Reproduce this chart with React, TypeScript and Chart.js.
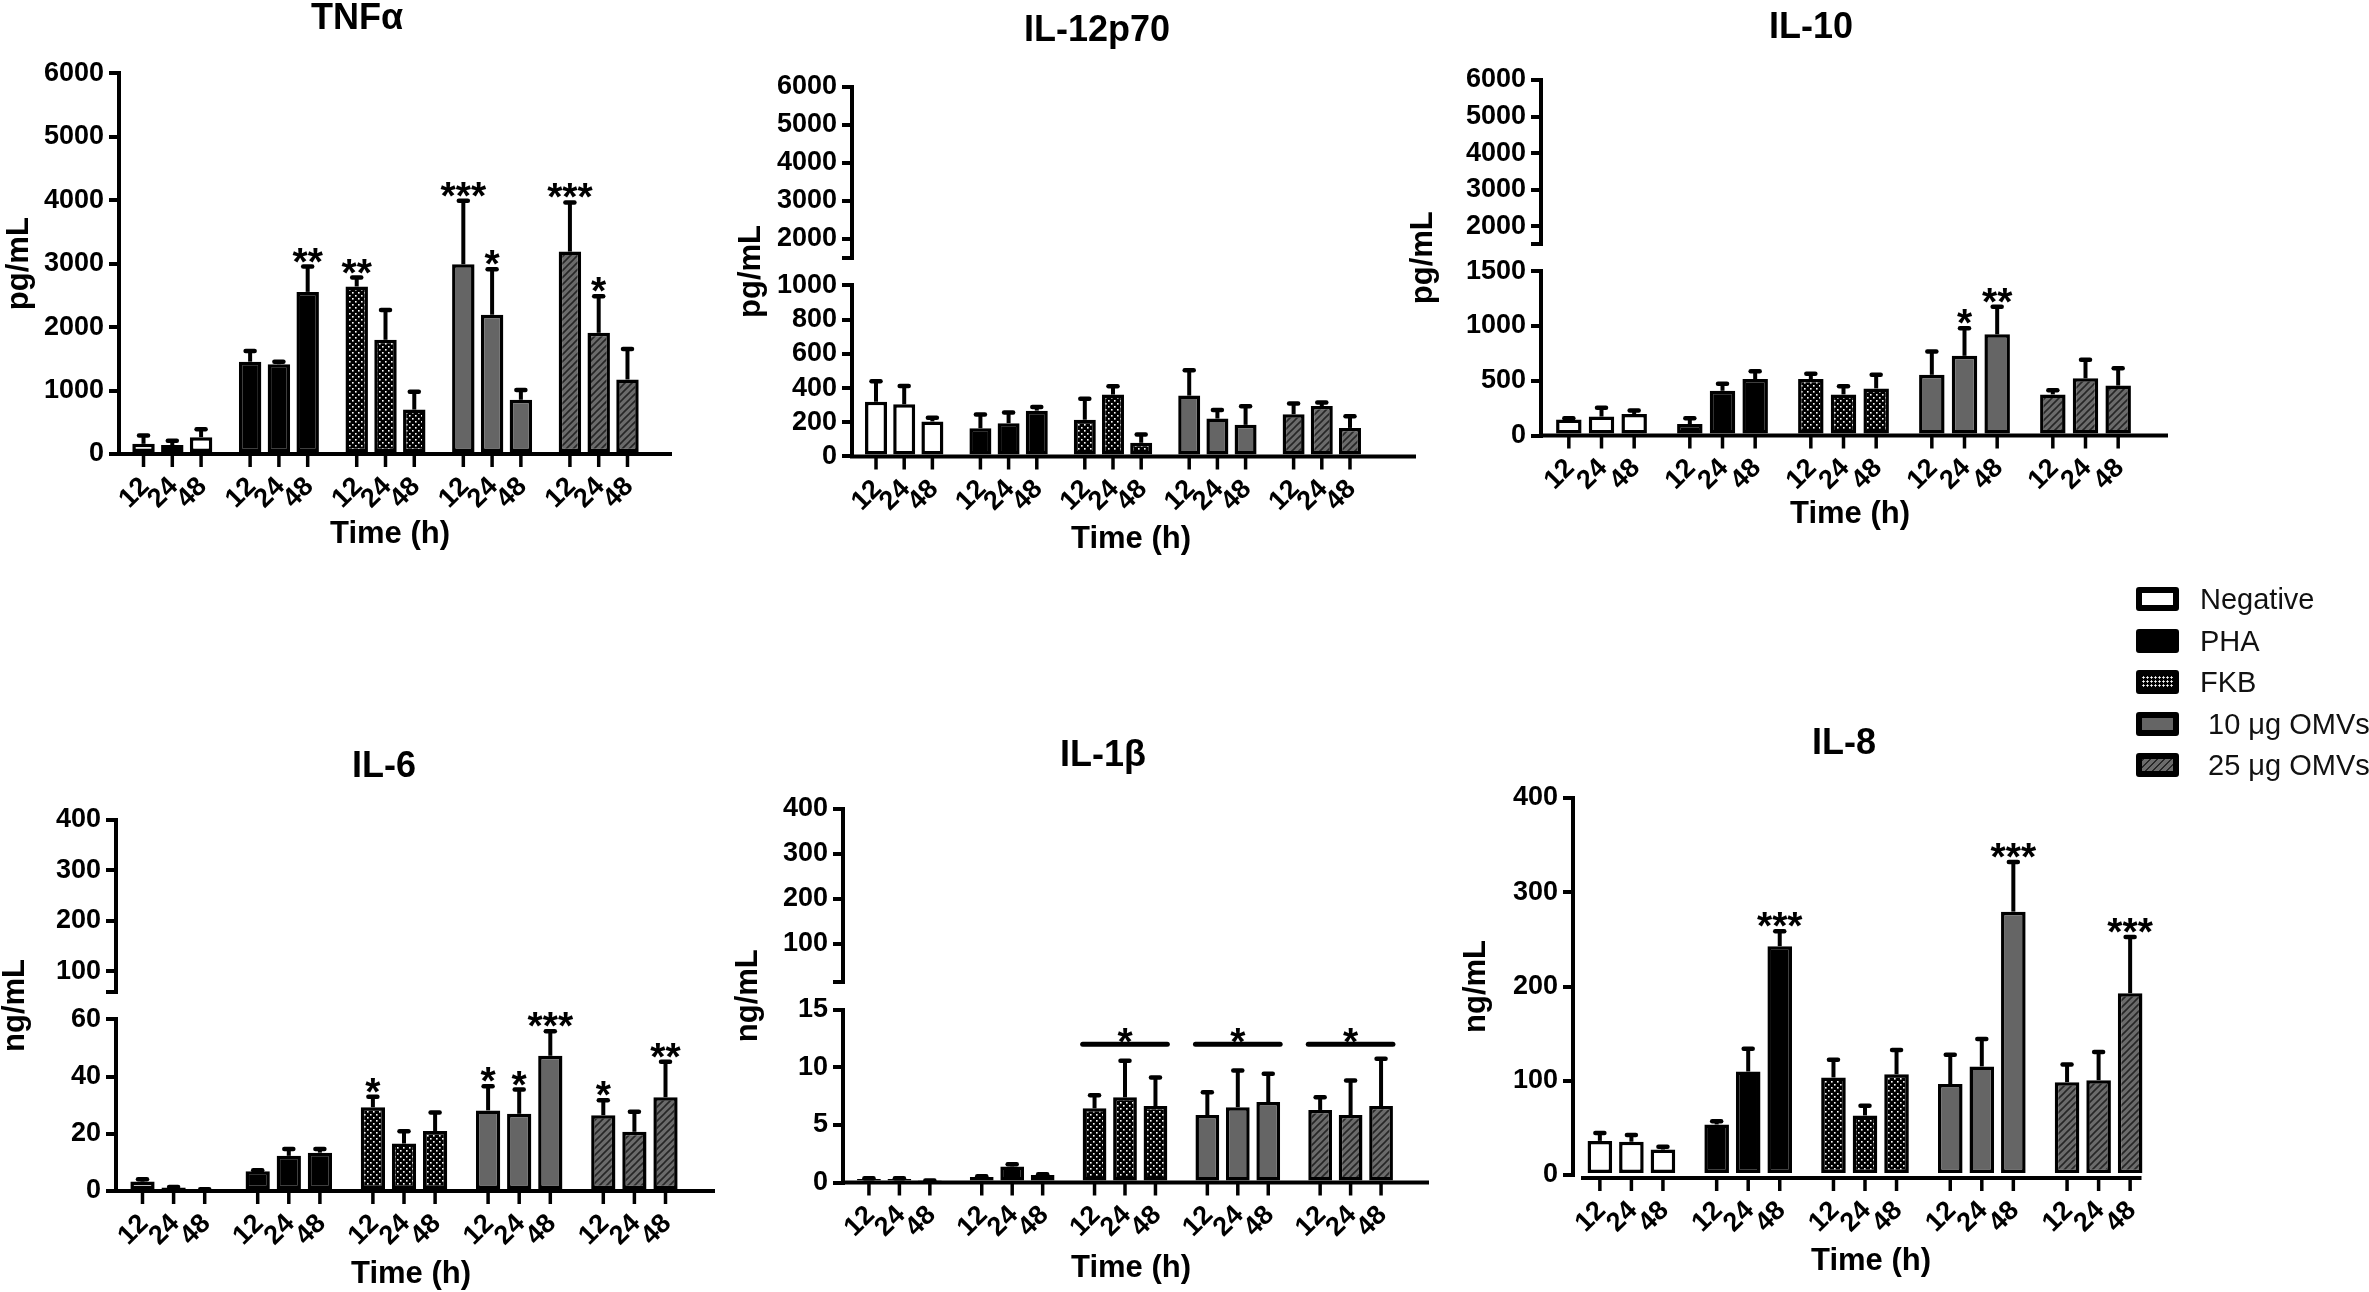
import { useEffect, useRef } from "react";
import { Chart, registerables } from "chart.js";

Chart.register(...registerables);

const FONT = '"Liberation Sans", Arial, Helvetica, sans-serif';
const PAGE_W = 2369;
const PAGE_H = 1292;
const YW = 100; // width of the y-axis box

// --- categories ---
const TREATMENTS = ["Negative", "PHA", "FKB", "10 μg OMVs", "25 μg OMVs"];
const TIMES = ["12", "24", "48"];

// --- values: rows = treatment, cols = 12 / 24 / 48 h ---
const TNF_MEAN = [[160, 140, 265], [1455, 1415, 2555], [2640, 1800, 700], [2990, 2195, 855], [3190, 1910, 1175]];
const TNF_SD = [[130, 70, 125], [170, 40, 400], [140, 470, 280], [1000, 715, 155], [775, 575, 480]];
const TNF_STARS = [["", "", ""], ["", "", "**"], ["**", "", ""], ["***", "*", ""], ["***", "*", ""]];
const TNF_TICKS = [0, 1000, 2000, 3000, 4000, 5000, 6000];

const IL12_MEAN = [[320, 305, 205], [165, 195, 268], [215, 362, 80], [356, 222, 185], [247, 295, 167]];
const IL12_SD = [[120, 107, 21], [80, 62, 21], [122, 48, 48], [148, 50, 109], [63, 21, 69]];
const IL12_LOW_TICKS = [0, 200, 400, 600, 800, 1000];
const IL12_HIGH_TICKS = [1500, 2000, 3000, 4000, 5000, 6000];

const IL10_MEAN = [[147, 173, 196], [104, 408, 515], [515, 375, 430], [554, 727, 923], [375, 522, 456]];
const IL10_SD = [[10, 81, 32], [53, 65, 72], [49, 75, 124], [212, 251, 251], [39, 169, 157]];
const IL10_STARS = [["", "", ""], ["", "", ""], ["", "", ""], ["", "*", "**"], ["", "", ""]];
const IL10_LOW_TICKS = [0, 500, 1000, 1500];
const IL10_HIGH_TICKS = [1500, 2000, 3000, 4000, 5000, 6000];

const IL6_MEAN = [[3.3, 1.2, 0.5], [6.9, 12.3, 13.4], [29.3, 16.6, 21.0], [28.2, 27.0, 47.3], [26.5, 20.7, 32.8]];
const IL6_SD = [[0.8, 0.2, 0.1], [0.4, 2.4, 1.3], [3.7, 4.3, 6.5], [8.4, 8.5, 8.6], [5.2, 7.0, 12.4]];
const IL6_STARS = [["", "", ""], ["", "", ""], ["*", "", ""], ["*", "*", "***"], ["*", "", "**"]];
const IL6_LOW_TICKS = [0, 20, 40, 60];
const IL6_HIGH_TICKS = [60, 100, 200, 300, 400];

const IL1B_MEAN = [[0.3, 0.3, 0.14], [0.48, 1.4, 0.65], [6.44, 7.4, 6.64], [5.86, 6.54, 6.99], [6.3, 5.86, 6.64]];
const IL1B_SD = [[0.08, 0.07, 0.03], [0.07, 0.18, 0.07], [1.13, 3.18, 2.47], [1.98, 3.19, 2.46], [1.1, 3.01, 4.11]];
const IL1B_GROUP_STARS = ["", "", "*", "*", "*"];
const IL1B_GROUP_LINE = 12;
const IL1B_LOW_TICKS = [0, 5, 10, 15];
const IL1B_HIGH_TICKS = [15, 100, 200, 300, 400];

const IL8_MEAN = [[36.2, 35.3, 27.0], [53.6, 109.8, 242.8], [103.5, 63.2, 106.9], [96.5, 115.2, 279.4], [98.5, 100.6, 192.9]];
const IL8_SD = [[8.3, 7.1, 2.9], [3.4, 24.1, 15.8], [18.7, 10.4, 25.7], [31.2, 29.1, 52.8], [18.8, 30.0, 59.5]];
const IL8_STARS = [["", "", ""], ["", "", "***"], ["", "", ""], ["", "", "***"], ["", "", "***"]];
const IL8_TICKS = [0, 100, 200, 300, 400];

const NO_STARS = [["", "", ""], ["", "", ""], ["", "", ""], ["", "", ""], ["", "", ""]];

type Panel = {
  title: string;
  unit: string;
  mean: number[][];
  sd: number[][];
  stars: string[][];
  lowTicks: number[];
  highTicks?: number[];
  groupStars?: string[];
  groupLine?: number;
  // layout, page pixels
  axisX: number;
  top: number;
  zero: number;
  catW: number;
  axisEnd: number;
  titleX: number;
  titleY: number;
  unitX: number;
  timeX: number;
  timeY: number;
  xAxisDx?: number;
  xAxisDy?: number;
};

const PANELS: Panel[] = [
  {
    title: "TNFα", unit: "pg/mL", mean: TNF_MEAN, sd: TNF_SD, stars: TNF_STARS, lowTicks: TNF_TICKS,
    axisX: 119, top: 73.3, zero: 454, catW: 533, axisEnd: 672,
    titleX: 357, titleY: 19, unitX: 19.5, timeX: 390, timeY: 534,
  },
  {
    title: "IL-12p70", unit: "pg/mL", mean: IL12_MEAN, sd: IL12_SD, stars: NO_STARS,
    lowTicks: IL12_LOW_TICKS, highTicks: IL12_HIGH_TICKS,
    axisX: 852, top: 86.5, zero: 456.5, catW: 522, axisEnd: 1416,
    titleX: 1097, titleY: 31, unitX: 751, timeX: 1131, timeY: 539,
  },
  {
    title: "IL-10", unit: "pg/mL", mean: IL10_MEAN, sd: IL10_SD, stars: IL10_STARS,
    lowTicks: IL10_LOW_TICKS, highTicks: IL10_HIGH_TICKS,
    axisX: 1541, top: 80, zero: 435.5, catW: 605, axisEnd: 2168,
    titleX: 1811, titleY: 28, unitX: 1423, timeX: 1850, timeY: 514,
  },
  {
    title: "IL-6", unit: "ng/mL", mean: IL6_MEAN, sd: IL6_SD, stars: IL6_STARS,
    lowTicks: IL6_LOW_TICKS, highTicks: IL6_HIGH_TICKS,
    axisX: 116, top: 820, zero: 1191, catW: 576, axisEnd: 715,
    titleX: 384, titleY: 767, unitX: 15.5, timeX: 411, timeY: 1274,
  },
  {
    title: "IL-1β", unit: "ng/mL", mean: IL1B_MEAN, sd: IL1B_SD, stars: NO_STARS,
    lowTicks: IL1B_LOW_TICKS, highTicks: IL1B_HIGH_TICKS,
    groupStars: IL1B_GROUP_STARS, groupLine: IL1B_GROUP_LINE,
    axisX: 843, top: 809, zero: 1182.5, catW: 564, axisEnd: 1429,
    titleX: 1103, titleY: 756, unitX: 748, timeX: 1131, timeY: 1268,
  },
  {
    title: "IL-8", unit: "ng/mL", mean: IL8_MEAN, sd: IL8_SD, stars: IL8_STARS, lowTicks: IL8_TICKS,
    axisX: 1573, top: 798, zero: 1175, catW: 584, axisEnd: 2141.5,
    titleX: 1844, titleY: 744, unitX: 1476, timeX: 1871, timeY: 1261,
    xAxisDx: 10, xAxisDy: 3,
  },
];

/* ------------ fills ------------ */
function makeFills(ctx: CanvasRenderingContext2D) {
  const dots = document.createElement("canvas");
  dots.width = 6;
  dots.height = 6;
  const d = dots.getContext("2d")!;
  d.fillStyle = "#000";
  d.fillRect(0, 0, 6, 6);
  d.fillStyle = "#fff";
  d.fillRect(1, 1, 1.6, 1.6);
  d.fillRect(4, 4, 1.6, 1.6);

  const hatch = document.createElement("canvas");
  hatch.width = 7;
  hatch.height = 7;
  const h = hatch.getContext("2d")!;
  h.fillStyle = "#6b6b6b";
  h.fillRect(0, 0, 7, 7);
  h.strokeStyle = "#262626";
  h.lineWidth = 1.6;
  h.beginPath();
  h.moveTo(-1, 8);
  h.lineTo(8, -1);
  h.moveTo(-1, 1);
  h.lineTo(1, -1);
  h.moveTo(6, 8);
  h.lineTo(8, 6);
  h.stroke();

  return ["#ffffff", "#000000", ctx.createPattern(dots, "repeat")!, "#656565", ctx.createPattern(hatch, "repeat")!];
}

/* ------------ axes ------------ */
function yAxis(ticks: number[], hideFirst: boolean) {
  return {
    type: "linear",
    position: "left",
    min: ticks[0],
    max: ticks[ticks.length - 1],
    afterBuildTicks: (s: any) => {
      s.ticks = ticks.map((v) => ({ value: v }));
    },
    afterFit: (s: any) => {
      s.width = YW;
    },
    border: { display: true, color: "#000", width: 4 },
    grid: {
      drawOnChartArea: false,
      drawTicks: true,
      tickLength: 10,
      tickWidth: 4,
      tickColor: "#000",
      color: "#000",
      lineWidth: 4,
    },
    ticks: {
      autoSkip: false,
      color: "#000",
      padding: 5,
      font: { family: FONT, size: 27, weight: "bold" },
      callback: (v: any) => (hideFirst && v === ticks[0] ? "" : String(v)),
    },
  };
}

function buildScales(p: Panel) {
  const x = { type: "category", display: false };
  if (!p.highTicks) return { x, y: yAxis(p.lowTicks, false) };
  return {
    x,
    y: { ...yAxis(p.lowTicks, false), stack: "ax", stackWeight: 172, weight: 1 },
    yGap: {
      type: "linear",
      position: "left",
      stack: "ax",
      stackWeight: 28,
      weight: 2,
      border: { display: false },
      grid: { display: false },
      ticks: { display: false },
      afterFit: (s: any) => {
        s.width = YW;
      },
    },
    yUpper: { ...yAxis(p.highTicks, true), stack: "ax", stackWeight: 172, weight: 3 },
  };
}

/* ------------ error bars, ticks, stars, labels ------------ */
function decorPlugin(p: Panel) {
  return {
    id: "decor",
    afterDatasetsDraw(chart: any) {
      const ctx: CanvasRenderingContext2D = chart.ctx;
      const ys = chart.scales.y;
      const dy = p.xAxisDy ?? 0;
      const zero = ys.getPixelForValue(0) + dy;
      ctx.save();
      ctx.strokeStyle = "#000";
      ctx.fillStyle = "#000";

      // x axis line
      ctx.lineWidth = 4;
      ctx.lineCap = "butt";
      ctx.beginPath();
      ctx.moveTo(chart.chartArea.left - 2 + (p.xAxisDx ?? 0), zero);
      ctx.lineTo(p.axisEnd, zero);
      ctx.stroke();

      chart.data.datasets.forEach((_: any, di: number) => {
        const meta = chart.getDatasetMeta(di);
        meta.data.forEach((el: any, gi: number) => {
          const { x, y } = el.getProps(["x", "y"], true);
          // tick mark under bar
          ctx.lineWidth = 3.5;
          ctx.lineCap = "butt";
          ctx.beginPath();
          ctx.moveTo(x, zero);
          ctx.lineTo(x, zero + 13);
          ctx.stroke();
          // rotated time label
          ctx.save();
          ctx.translate(x - 9, zero + 39);
          ctx.rotate(-Math.PI / 4);
          ctx.font = `bold 27px ${FONT}`;
          ctx.textAlign = "center";
          ctx.textBaseline = "middle";
          ctx.fillText(TIMES[di], 0, 0);
          ctx.restore();
          // error bar (upper)
          const eTop = ys.getPixelForValue(p.mean[gi][di] + p.sd[gi][di]);
          ctx.lineWidth = 4;
          ctx.beginPath();
          ctx.moveTo(x, y);
          ctx.lineTo(x, eTop);
          ctx.stroke();
          ctx.lineWidth = 4.5;
          ctx.lineCap = "round";
          ctx.beginPath();
          ctx.moveTo(x - 4.5, eTop);
          ctx.lineTo(x + 4.5, eTop);
          ctx.stroke();
          // significance
          const s = p.stars[gi][di];
          if (s) {
            ctx.font = `bold 39px ${FONT}`;
            ctx.textAlign = "center";
            ctx.textBaseline = "alphabetic";
            ctx.fillText(s, x, eTop + 8);
          }
        });
      });

      // group significance lines
      if (p.groupStars && p.groupLine !== undefined) {
        const ly = ys.getPixelForValue(p.groupLine);
        const first = chart.getDatasetMeta(0).data;
        const mid = chart.getDatasetMeta(1).data;
        const last = chart.getDatasetMeta(2).data;
        p.groupStars.forEach((s, gi) => {
          if (!s) return;
          const a = first[gi].getProps(["x", "width"], true);
          const b = last[gi].getProps(["x", "width"], true);
          ctx.lineWidth = 5;
          ctx.lineCap = "round";
          ctx.beginPath();
          ctx.moveTo(a.x - a.width / 2, ly);
          ctx.lineTo(b.x + b.width / 2, ly);
          ctx.stroke();
          ctx.font = `bold 39px ${FONT}`;
          ctx.textAlign = "center";
          ctx.textBaseline = "alphabetic";
          ctx.fillText(s, mid[gi].x, ly + 11);
        });
      }

      // titles
      ctx.textAlign = "center";
      ctx.textBaseline = "middle";
      ctx.font = `bold 36px ${FONT}`;
      ctx.fillText(p.title, p.titleX, p.titleY);
      ctx.font = `bold 31px ${FONT}`;
      ctx.fillText("Time (h)", p.timeX, p.timeY);
      ctx.save();
      ctx.translate(p.unitX, (p.top + p.zero) / 2);
      ctx.rotate(-Math.PI / 2);
      ctx.fillText(p.unit, 0, 0);
      ctx.restore();

      ctx.restore();
    },
  };
}

function CytokinePanel({ p }: { p: Panel }) {
  const ref = useRef<HTMLCanvasElement | null>(null);

  useEffect(() => {
    const canvas = ref.current;
    if (!canvas) return;
    const fills = makeFills(canvas.getContext("2d")!);
    const chart = new Chart(canvas, {
      type: "bar",
      data: {
        labels: TREATMENTS,
        datasets: TIMES.map((t, ti) => ({
          label: `${t} h`,
          data: p.mean.map((row) => row[ti]),
          backgroundColor: fills,
          borderColor: "#000",
          borderWidth: 3.5,
          borderSkipped: false,
          categoryPercentage: 0.81,
          barPercentage: 0.78,
          yAxisID: "y",
        })),
      },
      options: {
        animation: false,
        responsive: false,
        devicePixelRatio: 1,
        events: [],
        layout: {
          padding: {
            left: p.axisX - YW,
            right: PAGE_W - p.axisX - p.catW,
            top: p.top,
            bottom: PAGE_H - p.zero,
          },
        },
        plugins: { legend: { display: false }, tooltip: { enabled: false }, title: { display: false } },
        scales: buildScales(p) as any,
      },
      plugins: [decorPlugin(p) as any],
    } as any);
    return () => chart.destroy();
  }, [p]);

  return (
    <canvas
      ref={ref}
      width={PAGE_W}
      height={PAGE_H}
      style={{ position: "absolute", left: 0, top: 0, width: PAGE_W, height: PAGE_H }}
    />
  );
}

/* ------------ legend ------------ */
const LEGEND_BG = [
  "#ffffff",
  "#000000",
  "radial-gradient(circle at 1.5px 1.5px, #fff 0.9px, transparent 1.3px) 0 0 / 4px 4px, #000",
  "#656565",
  "repeating-linear-gradient(135deg, #262626 0 1.6px, #6b6b6b 1.6px 5px)",
];
const LEGEND_LABELS = ["Negative", "PHA", "FKB", " 10 μg OMVs", " 25 μg OMVs"];

function Legend() {
  return (
    <div style={{ position: "absolute", left: 2136, top: 587 }}>
      {LEGEND_LABELS.map((t, i) => (
        <div key={t} style={{ position: "absolute", left: 0, top: i * 41.5, height: 24, display: "flex", alignItems: "center" }}>
          <div
            style={{
              width: 43,
              height: 24,
              boxSizing: "border-box",
              border: "6px solid #000",
              borderRadius: 3,
              background: LEGEND_BG[i],
            }}
          />
          <span
            style={{
              marginLeft: 21,
              fontFamily: FONT,
              fontSize: 29,
              color: "#111",
              whiteSpace: "pre",
              lineHeight: "24px",
            }}
          >
            {t}
          </span>
        </div>
      ))}
    </div>
  );
}

export default function App() {
  return (
    <div
      style={{
        position: "absolute",
        left: 0,
        top: 0,
        width: PAGE_W,
        height: PAGE_H,
        background: "#fff",
        overflow: "hidden",
      }}
    >
      {PANELS.map((p) => (
        <CytokinePanel key={p.title} p={p} />
      ))}
      <Legend />
    </div>
  );
}
